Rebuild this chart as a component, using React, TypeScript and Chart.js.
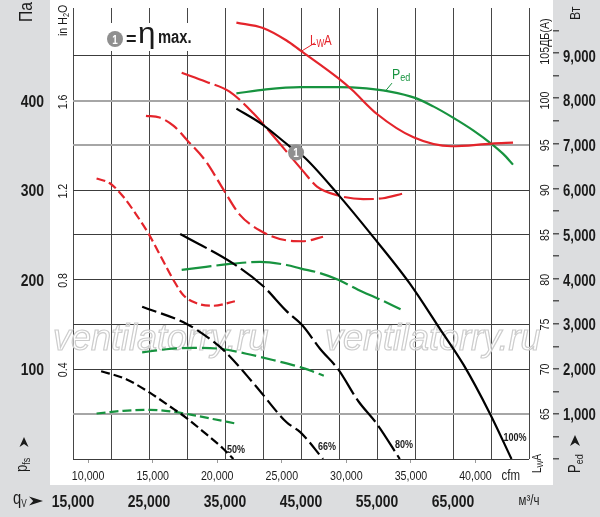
import { useEffect, useRef } from 'react';
import { Chart, registerables } from 'chart.js';

Chart.register(...registerables);

const SANS = '"Liberation Sans", Arial, sans-serif';
const NARROW_X = 0.82; // horizontal squeeze to mimic a condensed face
const TEXT = '#1b1b1b';
const RED = '#e4242b';
const GREEN = '#17933f';
const BLACK = '#000000';

// ---- axes ----
const FLOW_MIN = 15000; // m³/h
const FLOW_MAX = 75000;
const M3H_PER_CFM = 1.699;
const PA_PER_INH2O = 249.089;
const TOP_EXT = 459 / 456; // a few px of headroom above the 500 Pa line

const paTicks = [100, 200, 300, 400];
const wTicks = [1000, 2000, 3000, 4000, 5000, 6000, 7000, 8000, 9000];
const m3hTicks = [15000, 25000, 35000, 45000, 55000, 65000];
const cfmTicks = [10000, 15000, 20000, 25000, 30000, 35000, 40000];
const inH2OTicks = [0.4, 0.8, 1.2, 1.6];
const dbTicks = [65, 70, 75, 80, 85, 90, 95, 100, 105];
const grayGridPa = [400, 350, 50];

// ---- static pressure pfs (Pa) vs flow (m³/h) ----
const pfs100Flow = [36500, 39800, 43500, 45400, 49900, 54100, 59300, 63300, 66400, 69900, 72700];
const pfs100 = [391, 374, 349, 337, 295, 252, 196, 145, 105, 50, 0];
const pfs80Flow = [29100, 36100, 40000, 43100, 45200, 47500, 49900, 52500, 55000, 58000];
const pfs80 = [251, 218, 193, 165, 149, 123, 100, 65, 39, 0];
const pfs66Flow = [24100, 29900, 33000, 35000, 38900, 43100, 44900, 47900];
const pfs66 = [170, 151, 134, 120, 83, 41, 30, 0];
const pfs50Flow = [18700, 22000, 25100, 27700, 29900, 32500, 34700, 36100];
const pfs50 = [98, 89, 74, 59, 46, 28, 12, 0];

// ---- sound power LwA (dB(A)) ----
const lwa100Flow = [36500, 40000, 43100, 44900, 49900, 51700, 55000, 59800, 64800, 70100, 72900];
const lwa100 = [108.7, 108.1, 106.7, 105.6, 102.5, 101.2, 98.5, 95.9, 94.9, 95.2, 95.3];
const lwa80Flow = [29300, 32500, 35600, 38700, 41300, 43500, 45300, 47100, 49900, 53200, 55800, 58300];
const lwa80 = [103.1, 102.1, 101.0, 98.6, 96.1, 93.9, 92.1, 90.4, 89.4, 89.0, 89.1, 89.6];
const lwa66Flow = [24600, 26400, 28200, 30100, 32500, 34700, 36900, 39600, 43100, 45200, 47900];
const lwa66 = [98.3, 98.1, 97.2, 95.5, 93.2, 90.2, 87.3, 85.5, 84.4, 84.3, 84.8];
const lwa50Flow = [18100, 19800, 21600, 23300, 24900, 26800, 28200, 29500, 31200, 33400, 36300];
const lwa50 = [91.3, 90.8, 89.3, 87.3, 85.2, 82.2, 80.0, 78.3, 77.4, 77.1, 77.6];

// ---- power input Ped (W) ----
const ped100Flow = [36500, 40400, 44900, 49900, 53600, 56700, 60000, 62400, 65000, 67700, 70100, 71600, 72900];
const ped100 = [8160, 8250, 8300, 8300, 8270, 8200, 8060, 7870, 7620, 7330, 7030, 6810, 6570];
const ped80Flow = [29300, 32500, 36100, 39600, 43100, 45000, 47500, 49900, 52500, 55400, 58100];
const ped80 = [4220, 4290, 4360, 4400, 4330, 4250, 4150, 4000, 3780, 3560, 3340];
const ped66Flow = [24100, 27300, 30800, 34300, 37800, 41300, 44900, 46600, 48000];
const ped66 = [2380, 2450, 2480, 2460, 2350, 2210, 2050, 1950, 1860];
const ped50Flow = [18100, 21600, 25100, 28200, 30800, 33400, 36300];
const ped50 = [1015, 1075, 1097, 1053, 980, 893, 796];

// ---- max efficiency point ----
const etaFlow = [44350];
const etaPa = [342];

// ---- speed labels (anchored in data units) ----
const speedLabels = ['50%', '66%', '80%', '100%'];
const speedLabelFlow = [36450, 48420, 58550, 73160];
const speedLabelPa = [11, 14.3, 16.4, 24.1];

const DASH: Record<string, number[]> = { '100': [], '80': [30, 5], '66': [15, 5], '50': [9, 4] };

const pts = (xs: number[], ys: number[]) => xs.map((x, i) => ({ x, y: ys[i] }));
const fmt = (v: number) => v.toLocaleString('en-US');
const f = (size: number, bold = false) => `${bold ? 'bold ' : ''}${size}px ${SANS}`;

type Part = { t: string; font: string; dy?: number };
function label(
  ctx: CanvasRenderingContext2D,
  parts: Part[],
  x: number,
  y: number,
  opt: { rotate?: boolean; align?: 'left' | 'center' | 'right'; sx?: number } = {},
) {
  const sx = opt.sx ?? NARROW_X;
  ctx.save();
  ctx.translate(x, y);
  if (opt.rotate) ctx.rotate(-Math.PI / 2);
  ctx.scale(sx, 1);
  ctx.textBaseline = 'alphabetic';
  ctx.textAlign = 'left';
  const widths = parts.map((p) => {
    ctx.font = p.font;
    return ctx.measureText(p.t).width;
  });
  const total = widths.reduce((a, b) => a + b, 0);
  let cx = opt.align === 'center' ? -total / 2 : opt.align === 'right' ? -total : 0;
  parts.forEach((p, i) => {
    ctx.font = p.font;
    ctx.fillText(p.t, cx, p.dy || 0);
    cx += widths[i];
  });
  ctx.restore();
  return total * sx;
}

function arrow(ctx: CanvasRenderingContext2D, tipX: number, tipY: number, dir: 'up' | 'right', len: number, w: number) {
  ctx.save();
  ctx.translate(tipX, tipY);
  if (dir === 'up') ctx.rotate(-Math.PI / 2);
  ctx.beginPath();
  ctx.moveTo(0, 0);
  ctx.lineTo(-len, -w / 2);
  ctx.lineTo(-len * 0.7, 0);
  ctx.lineTo(-len, w / 2);
  ctx.closePath();
  ctx.fillStyle = TEXT;
  ctx.fill();
  ctx.restore();
}

const decor = {
  id: 'decor',
  beforeDraw(chart: any) {
    const ctx: CanvasRenderingContext2D = chart.ctx;
    const { yIn, yDb, xCfm } = chart.scales;
    ctx.save();
    ctx.fillStyle = '#dcdddf';
    ctx.fillRect(0, 0, chart.width, chart.height);
    ctx.fillStyle = '#ffffff';
    ctx.fillRect(yIn.left, 0, yDb.right - yIn.left, xCfm.bottom);
    ctx.restore();
  },
  beforeDatasetsDraw(chart: any) {
    const ctx: CanvasRenderingContext2D = chart.ctx;
    const { left } = chart.chartArea;
    ctx.save();
    // watermark
    ctx.font = `italic 36px ${SANS}`;
    ctx.textBaseline = 'alphabetic';
    ctx.lineWidth = 1.2;
    ctx.strokeStyle = '#cdcdcd';
    ctx.fillStyle = 'rgba(255,255,255,0.55)';
    for (const wx of [left - 20, left + 252]) {
      ctx.fillText('ventilatorry.ru', wx, 350);
      ctx.strokeText('ventilatorry.ru', wx, 350);
    }
    // legend box
    ctx.fillStyle = '#ffffff';
    ctx.fillRect(left + 27, 23, 92, 28);
    ctx.restore();
  },
  afterDatasetsDraw(chart: any) {
    const ctx: CanvasRenderingContext2D = chart.ctx;
    const { x, xCfm, yPa, yIn, yDb, yW } = chart.scales;
    const { left } = chart.chartArea;
    ctx.save();

    // legend: (1) = η max.
    ctx.beginPath();
    ctx.arc(left + 42, 39, 8, 0, Math.PI * 2);
    ctx.fillStyle = '#8f8f8f';
    ctx.fill();
    ctx.fillStyle = '#ffffff';
    label(ctx, [{ t: '1', font: f(12, true) }], left + 42, 43.5, { align: 'center' });
    ctx.fillStyle = TEXT;
    label(ctx, [{ t: '=', font: f(18, true) }], left + 53, 45, { sx: 1 });
    label(ctx, [{ t: 'η', font: `30px ${SANS}` }], left + 65, 43, { sx: 1.05 });
    label(ctx, [{ t: 'max.', font: f(18, true) }], left + 85, 43);

    // eta point label
    const etaEl = chart.getDatasetMeta(0).data[0];
    ctx.fillStyle = '#ffffff';
    label(ctx, [{ t: '1', font: f(12, true) }], etaEl.x, etaEl.y + 4.5, { align: 'center' });

    // speed labels
    ctx.fillStyle = TEXT;
    speedLabels.forEach((t, i) => {
      label(ctx, [{ t, font: f(11, true) }], x.getPixelForValue(speedLabelFlow[i]), yPa.getPixelForValue(speedLabelPa[i]) + 4, { align: 'center' });
    });

    // LwA callout
    const lx = x.getPixelForValue(45000);
    const ly = yDb.getPixelForValue(105.55);
    ctx.strokeStyle = RED;
    ctx.lineWidth = 1;
    ctx.beginPath();
    ctx.moveTo(lx + 1, ly);
    ctx.lineTo(lx + 14, ly - 8);
    ctx.stroke();
    ctx.fillStyle = RED;
    label(ctx, [
      { t: 'L', font: f(14) },
      { t: 'W', font: f(10), dy: 2 },
      { t: 'A', font: f(14) },
    ], lx + 9, ly - 6);

    // Ped callout
    const px = x.getPixelForValue(56050);
    const py = yW.getPixelForValue(8200);
    ctx.strokeStyle = GREEN;
    ctx.beginPath();
    ctx.moveTo(px, py);
    ctx.lineTo(px + 7, py - 8.5);
    ctx.stroke();
    ctx.fillStyle = GREEN;
    label(ctx, [
      { t: 'P', font: f(15) },
      { t: 'ed', font: f(11), dy: 2 },
    ], px + 7, py - 13);

    ctx.fillStyle = TEXT;
    // Pa tick labels
    paTicks.forEach((v) => {
      label(ctx, [{ t: String(v), font: f(17, true) }], yPa.right - 6, yPa.getPixelForValue(v) + 6, { align: 'right' });
    });
    // W tick labels
    wTicks.forEach((v) => {
      label(ctx, [{ t: fmt(v), font: f(16, true) }], yW.left + 10, yW.getPixelForValue(v) + 5.8);
    });
    // m³/h tick labels
    m3hTicks.forEach((v) => {
      label(ctx, [{ t: fmt(v), font: f(17, true) }], x.getPixelForValue(v), x.top + 22, { align: 'center' });
    });
    label(ctx, [{ t: 'м³/ч', font: f(14) }], x.getPixelForValue(FLOW_MAX), x.top + 20, { align: 'center' });
    // cfm tick labels
    cfmTicks.forEach((v) => {
      label(ctx, [{ t: fmt(v), font: f(13) }], xCfm.getPixelForValue(v), xCfm.top + 21, { align: 'center' });
    });
    label(ctx, [{ t: 'cfm', font: f(14) }], xCfm.getPixelForValue(cfmTicks[cfmTicks.length - 1]) + 26, xCfm.top + 21);

    // inH2O
    inH2OTicks.forEach((v) => {
      label(ctx, [{ t: String(v), font: f(13) }], yIn.right - 6, yIn.getPixelForValue(v), { rotate: true, align: 'center' });
    });
    label(ctx, [
      { t: 'in H', font: f(13) },
      { t: '2', font: f(9), dy: 2 },
      { t: 'O', font: f(13) },
    ], yIn.right - 6, 36, { rotate: true });
    // Pa unit
    label(ctx, [{ t: 'Па', font: f(19) }], 32, 22, { rotate: true });
    // pfs
    label(ctx, [
      { t: 'p', font: f(16) },
      { t: 'fs', font: f(11), dy: 3 },
    ], 27, 472, { rotate: true });
    arrow(ctx, 24, 437, 'up', 10, 9);
    // dB
    dbTicks.forEach((v) => {
      const yy = yDb.getPixelForValue(v);
      const w = label(ctx, [{ t: String(v), font: f(13) }], yDb.left + 20, yy, { rotate: true, align: 'center' });
      if (v === 105) {
        label(ctx, [{ t: 'ДБ(A)', font: f(13) }], yDb.left + 20, yy - w / 2, { rotate: true });
      }
    });
    label(ctx, [
      { t: 'L', font: f(12) },
      { t: 'W', font: f(9), dy: 2 },
      { t: 'A', font: f(12) },
    ], yDb.left + 12, 473, { rotate: true });
    // W unit
    label(ctx, [{ t: 'Вт', font: f(15) }], yW.left + 27, 20, { rotate: true });
    label(ctx, [
      { t: 'P', font: f(16) },
      { t: 'ed', font: f(11), dy: 3 },
    ], yW.left + 27, 473, { rotate: true });
    arrow(ctx, yW.left + 22, 435, 'up', 11, 10);
    // qV
    label(ctx, [
      { t: 'q', font: f(18) },
      { t: 'V', font: f(10), dy: 3 },
    ], 13, 504);
    arrow(ctx, 43, 501, 'right', 14, 9);
    ctx.restore();
  },
};

const fixW = (w: number) => (s: any) => {
  s.width = w;
  s.paddingTop = 0; s.paddingBottom = 0; s.paddingLeft = 0; s.paddingRight = 0;
};
const fixH = (h: number) => (s: any) => {
  s.height = h;
  s.paddingTop = 0; s.paddingBottom = 0; s.paddingLeft = 0; s.paddingRight = 0;
};

export default function App() {
  const ref = useRef<HTMLCanvasElement>(null);
  useEffect(() => {
    document.body.style.margin = '0';
    const canvas = ref.current;
    if (!canvas) return;

    const line = (name: string, xs: number[], ys: number[], axis: string, color: string, speed: string) => ({
      label: name,
      data: pts(xs, ys),
      yAxisID: axis,
      borderColor: color,
      backgroundColor: color,
      borderWidth: 2.2,
      borderDash: DASH[speed],
      pointRadius: 0,
      fill: false,
      cubicInterpolationMode: 'monotone' as const,
    });

    const datasets: any[] = [
      {
        label: 'η max',
        data: pts(etaFlow, etaPa),
        yAxisID: 'yPa',
        showLine: false,
        pointRadius: 8,
        pointBackgroundColor: '#8f8f8f',
        pointBorderWidth: 0,
      },
      line('pfs 100%', pfs100Flow, pfs100, 'yPa', BLACK, '100'),
      line('pfs 80%', pfs80Flow, pfs80, 'yPa', BLACK, '80'),
      line('pfs 66%', pfs66Flow, pfs66, 'yPa', BLACK, '66'),
      line('pfs 50%', pfs50Flow, pfs50, 'yPa', BLACK, '50'),
      line('LwA 100%', lwa100Flow, lwa100, 'yDb', RED, '100'),
      line('LwA 80%', lwa80Flow, lwa80, 'yDb', RED, '80'),
      line('LwA 66%', lwa66Flow, lwa66, 'yDb', RED, '66'),
      line('LwA 50%', lwa50Flow, lwa50, 'yDb', RED, '50'),
      line('Ped 100%', ped100Flow, ped100, 'yW', GREEN, '100'),
      line('Ped 80%', ped80Flow, ped80, 'yW', GREEN, '80'),
      line('Ped 66%', ped66Flow, ped66, 'yW', GREEN, '66'),
      line('Ped 50%', ped50Flow, ped50, 'yW', GREEN, '50'),
    ];

    const chart = new Chart(canvas, {
      type: 'line',
      data: { datasets },
      plugins: [decor],
      options: {
        animation: false,
        responsive: false,
        layout: { padding: 0 },
        plugins: { legend: { display: false }, tooltip: { enabled: false } },
        scales: {
          x: {
            type: 'linear',
            position: 'bottom',
            weight: 1,
            min: FLOW_MIN,
            max: FLOW_MAX,
            afterFit: fixH(32),
            border: { display: false },
            grid: { color: '#464646', lineWidth: 1, drawTicks: false },
            ticks: { stepSize: 5000, autoSkip: false, display: false },
          },
          xCfm: {
            type: 'linear',
            position: 'bottom',
            weight: 0,
            min: FLOW_MIN / M3H_PER_CFM,
            max: FLOW_MAX / M3H_PER_CFM,
            afterFit: fixH(26),
            afterBuildTicks: (s: any) => {
              s.ticks = cfmTicks.map((value) => ({ value }));
            },
            border: { display: false },
            grid: { drawOnChartArea: false, drawTicks: true, tickLength: 4, color: '#9a9a9a' },
            ticks: { display: false, autoSkip: false },
          },
          yPa: {
            type: 'linear',
            position: 'left',
            weight: 1,
            min: 0,
            max: 500 * TOP_EXT,
            afterFit: fixW(50),
            border: { display: false },
            grid: {
              drawTicks: false,
              color: (c: any) => {
                const v = c.tick ? c.tick.value : 0;
                if (v >= 500) return 'rgba(0,0,0,0)';
                return grayGridPa.includes(v) ? '#a6a6a6' : '#3c3c3c';
              },
              lineWidth: (c: any) => (c.tick && grayGridPa.includes(c.tick.value) ? 2 : 1),
            },
            ticks: { stepSize: 50, includeBounds: false, autoSkip: false, display: false },
          },
          yIn: {
            type: 'linear',
            position: 'left',
            weight: 0,
            min: 0,
            max: (500 * TOP_EXT) / PA_PER_INH2O,
            afterFit: fixW(23),
            border: { display: false },
            grid: { display: false },
            ticks: { display: false },
          },
          yDb: {
            type: 'linear',
            position: 'right',
            weight: 0,
            min: 60,
            max: 60 + 50 * TOP_EXT,
            afterFit: fixW(24),
            border: { display: false },
            grid: { display: false },
            ticks: { display: false },
          },
          yW: {
            type: 'linear',
            position: 'right',
            weight: 1,
            min: 0,
            max: 10000 * TOP_EXT,
            afterFit: fixW(47),
            border: { display: false },
            grid: {
              drawOnChartArea: false,
              drawTicks: true,
              tickLength: 6,
              lineWidth: 1.5,
              color: (c: any) => (c.tick && c.tick.value >= 10000 ? 'rgba(0,0,0,0)' : '#555555'),
            },
            ticks: { stepSize: 500, includeBounds: false, autoSkip: false, display: false },
          },
        },
      } as any,
    });
    return () => chart.destroy();
  }, []);

  return <canvas ref={ref} width={600} height={517} style={{ display: 'block', width: 600, height: 517 }} />;
}
